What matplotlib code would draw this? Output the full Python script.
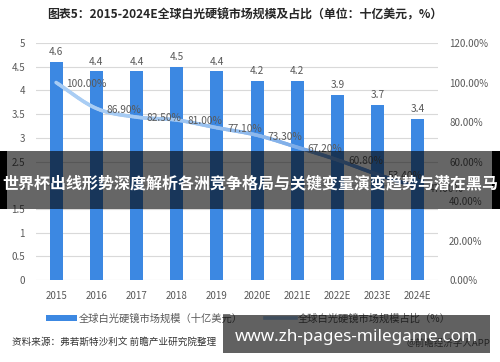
import numpy as np
import matplotlib
matplotlib.use("Agg")
import matplotlib.pyplot as plt
from matplotlib.collections import LineCollection
from matplotlib.patches import Rectangle
from matplotlib.lines import Line2D
from matplotlib.patches import Patch
import matplotlib.colors as mcolors

plt.rcParams['font.family'] = ['Noto Sans CJK SC', 'DejaVu Sans']

years = ["2015", "2016", "2017", "2018", "2019", "2020E", "2021E", "2022E", "2023E", "2024E"]
market_size = [4.6, 4.4, 4.4, 4.5, 4.4, 4.2, 4.2, 3.9, 3.7, 3.4]
share_pct = [100.0, 86.9, 82.5, 81.0, 77.1, 73.3, 67.2, 60.8, 53.4, 47.0]
left_ticks = [0, 0.5, 1, 1.5, 2, 2.5, 3, 3.5, 4, 4.5, 5]
right_ticks = [0, 20, 40, 60, 80, 100, 120]

title = "图表5：2015-2024E全球白光硬镜市场规模及占比（单位：十亿美元，%）"
legend_bar = "全球白光硬镜市场规模（十亿美元）"
legend_line = "全球白光硬镜市场规模占比（%）"
source = "资料来源：弗若斯特沙利文 前瞻产业研究院整理"
credit = "@前瞻经济学人APP"
band_text = "世界杯出线形势深度解析各洲竞争格局与关键变量演变趋势与潜在黑马"
url_text = "www.zh-pages-milegame.com"

BAR = "#3C88E2"
GREY = "#595959"

fig = plt.figure(figsize=(5.0, 3.62), dpi=100)
ax = fig.add_axes([0.072, 0.2265, 0.804, 0.6547])
ax2 = ax.twinx()

x = np.arange(len(years))
ax.bar(x, market_size, width=0.32, color=BAR, zorder=2)
for xi, v in zip(x, market_size):
    ax.annotate(f"{v:.1f}", (xi, v), xytext=(0, 3.5), textcoords="offset points",
                ha="center", va="bottom", fontsize=7.3, color=GREY)

ax.set_ylim(0, 5)
ax.set_xlim(-0.5, len(years) - 0.5)
ax.set_yticks(left_ticks)
ax.set_yticklabels([f"{t:g}" for t in left_ticks])
ax.grid(axis="y", color="#D9D9D9", linewidth=0.8, zorder=0)
ax.set_axisbelow(True)
ax.set_xticks(x)
ax.set_xticklabels(years)
for a in (ax, ax2):
    for s in a.spines.values():
        s.set_visible(False)
    a.tick_params(length=0, labelsize=7, colors=GREY)
ax.tick_params(axis="x", pad=8)
ax.tick_params(axis="y", pad=8)
ax2.tick_params(axis="y", pad=8)

ax2.set_ylim(0, 120)
ax2.set_yticks(right_ticks)
ax2.set_yticklabels([f"{t:.2f}%" for t in right_ticks])

# smooth (Catmull-Rom) line through the share values
px = x.astype(float)
py = np.array(share_pct, dtype=float)
P = np.column_stack([px, py])
P = np.vstack([2 * P[0] - P[1], P, 2 * P[-1] - P[-2]])
pts = []
for i in range(1, len(P) - 2):
    p0, p1, p2, p3 = P[i - 1], P[i], P[i + 1], P[i + 2]
    for t in np.linspace(0, 1, 20, endpoint=False):
        t2, t3 = t * t, t * t * t
        pts.append(0.5 * ((2 * p1) + (-p0 + p2) * t + (2 * p0 - 5 * p1 + 4 * p2 - p3) * t2
                          + (-p0 + 3 * p1 - 3 * p2 + p3) * t3))
pts.append(P[-2])
pts = np.array(pts)
segs = np.stack([pts[:-1], pts[1:]], axis=1)
light = np.array(mcolors.to_rgb("#A9CDF4"))
dark = np.array(mcolors.to_rgb("#3F7ED6"))
tt = (segs[:, 0, 0] / (len(years) - 1)).clip(0, 1) ** 2.2
cols = light[None, :] * (1 - tt[:, None]) + dark[None, :] * tt[:, None]
lc = LineCollection(segs, colors=cols, linewidths=2.6, capstyle="round", zorder=3)
ax2.add_collection(lc)
for xi, v in zip(x, share_pct):
    ax2.annotate(f"{v:.2f}%", (xi, v), xytext=(7.5, -1), textcoords="offset points",
                 ha="left", va="center", fontsize=7.3, color=GREY, zorder=4)

# title
fig.text(0.49, 0.958, title, ha="center", va="center", fontsize=8.6, fontweight="bold", color="#262626")

# legend
handles = [Patch(facecolor=BAR, edgecolor="none"),
           Line2D([0], [0], color="#A9CDF4", linewidth=2.6)]
leg = fig.legend(handles, [legend_bar, legend_line], loc="center", bbox_to_anchor=(0.497, 0.121),
                 ncol=2, frameon=False, fontsize=7.4, handlelength=3.0, handleheight=0.5,
                 columnspacing=2.2, handletextpad=0.2)
for t in leg.get_texts():
    t.set_color(GREY)

fig.text(0.024, 0.055, source, ha="left", va="center", fontsize=6.9, color="#333333")
fig.text(0.98, 0.052, credit, ha="right", va="center", fontsize=6.8, color=GREY)

# overlays
fig.patches.append(Rectangle((0, 1 - 209 / 362), 1, 58 / 362, transform=fig.transFigure,
                             facecolor="black", alpha=0.6, edgecolor="none", zorder=10))
fig.patches.append(Rectangle((0, 1 - 209 / 362), 0.014, 58 / 362, transform=fig.transFigure,
                             facecolor="black", edgecolor="none", zorder=10))
fig.patches.append(Rectangle((0.984, 1 - 209 / 362), 0.016, 58 / 362, transform=fig.transFigure,
                             facecolor="black", edgecolor="none", zorder=10))
fig.text(0.5, 1 - 183 / 362, band_text, ha="center", va="center", fontsize=11.5,
         fontweight="bold", color="white", zorder=11)

fig.patches.append(Rectangle((223 / 500, 1 - 353 / 362), 267 / 500, 38 / 362, transform=fig.transFigure,
                             facecolor="black", alpha=0.62, edgecolor="none", zorder=10))
fig.text(356 / 500, 1 - 337 / 362, url_text, ha="center", va="center", fontsize=12.3,
         fontweight="bold", color="white", family=["Noto Sans", "DejaVu Sans"], zorder=11)

fig.savefig("out.png", dpi=100)
